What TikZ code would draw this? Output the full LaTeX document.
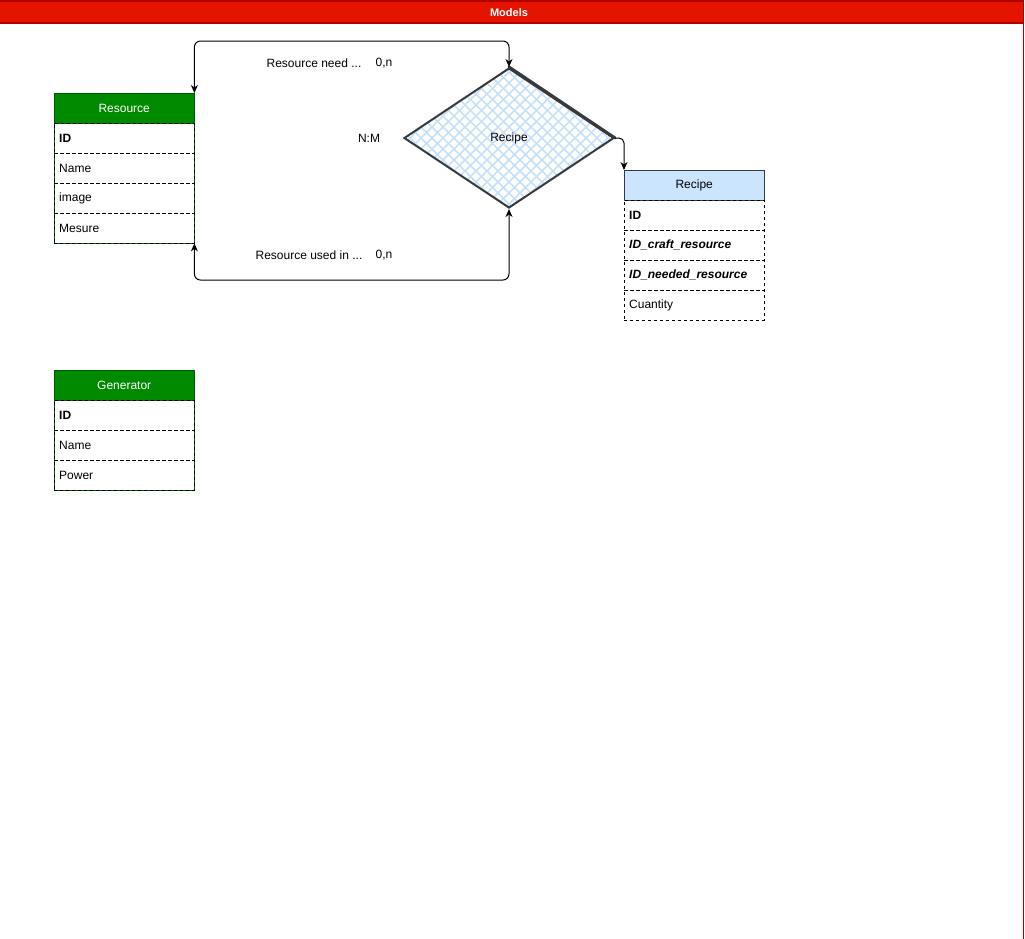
\documentclass[tikz,border=0pt]{standalone}
\usepackage{fontspec}
\setmainfont{Liberation Sans}
\usetikzlibrary{shapes.geometric,arrows.meta}
\definecolor{hdrred}{HTML}{E51400}
\definecolor{hdrline}{HTML}{B20000}
\definecolor{grn}{HTML}{008A00}
\definecolor{grnline}{HTML}{005700}
\definecolor{lblue}{HTML}{CCE5FF}
\definecolor{dgray}{HTML}{36393D}
\definecolor{hatchc}{HTML}{C6E0FB}
\begin{document}
\begin{tikzpicture}[x=1pt,y=-1pt,font=\fontsize{12}{14}\selectfont,
  hdrG/.style={draw=grnline,fill=grn,text=white,minimum width=140pt,minimum height=30pt,anchor=north west,inner sep=0pt},
  hdrB/.style={draw=dgray,fill=lblue,text=black,minimum width=140pt,minimum height=30pt,anchor=north west,inner sep=0pt},
  rowbox/.style={draw=black,dash pattern=on 3pt off 3pt,minimum height=30pt,text width=130pt,inner xsep=5pt,inner ysep=0pt,align=left,anchor=north west},
  keyrow/.style={rowbox,font=\fontsize{12}{14}\selectfont\bfseries},
  fkrow/.style={rowbox,font=\fontsize{12}{14}\selectfont\bfseries\itshape},
  arr2/.style={{Stealth[length=8pt,width=7pt,inset=2.5pt]}-{Stealth[length=8pt,width=7pt,inset=2.5pt]},rounded corners=6pt,line width=1pt},
  arr1/.style={-{Stealth[length=8pt,width=7pt,inset=2.5pt]},rounded corners=5pt,line width=1pt},
  lbl/.style={inner sep=0pt}
]
\useasboundingbox (0,0) rectangle (1025,938);
% swimlane frame
\fill[hdrred] (-2,0) rectangle (1023.5,23);
\draw[hdrline,line width=1.5pt] (-2,0.75) -- (1023.5,0.75) -- (1023.5,940);
\draw[hdrline,line width=1.5pt] (-2,23) -- (1023.5,23);
\node[text=white,font=\fontsize{11}{13}\selectfont\bfseries] (title) at (509,12.5) {Models};

% Resource table
\draw[grnline] (54,93) rectangle (194,243);
\node[hdrG] (resH) at (54,93) {Resource};
\node[keyrow] (resID) at (54,123) {ID};
\node[rowbox] (resName) at (54,153) {Name};
\node[rowbox] (resImg) at (54,183) {image};
\node[rowbox] (resMes) at (54,213) {Mesure};

% Generator table
\draw[grnline] (54,370) rectangle (194,490);
\node[hdrG] (genH) at (54,370) {Generator};
\node[keyrow] (genID) at (54,400) {ID};
\node[rowbox] (genName) at (54,430) {Name};
\node[rowbox] (genPow) at (54,460) {Power};

% Recipe table
\node[hdrB] (recH) at (624,170) {Recipe};
\node[keyrow] (recID) at (624,200) {ID};
\node[fkrow] (recCraft) at (624,230) {ID\_craft\_resource};
\node[fkrow] (recNeed) at (624,260) {ID\_needed\_resource};
\node[rowbox] (recQ) at (624,290) {Cuantity};

% Relationship diamond
\node[diamond,draw=dgray,line width=2pt,minimum width=210pt,minimum height=140pt,inner sep=0pt,aspect=1.5,
  path picture={
    \foreach \s in {-198,-187,...,198}{
      \draw[hatchc,line width=1.6pt] ([xshift=\s pt]path picture bounding box.center) ++(-150,-150) -- ++(300,300);
      \draw[hatchc,line width=1.6pt] ([xshift=\s pt]path picture bounding box.center) ++(-150,150) -- ++(300,-300);
    }
  }] (dia) at (509,138) {Recipe};
\draw[dgray,line width=3pt,line cap=round] (dia.north) -- (dia.east);

% connectors
\coordinate (topY) at (352,41);
\coordinate (botY) at (352,280);
\draw[arr2] (resH.north east) |- (topY) -| (dia.north);
\draw[arr2] (resMes.south east) |- (botY) -| (dia.south);
\draw[arr1] (dia.east) -| (recH.north west);

% labels
\node[lbl] (lblNeed) at (314,63.5) {Resource need ...};
\node[lbl] (lblNeedC) at (384,63.5) {0,n};
\node[lbl] (lblUsed) at (309,255.5) {Resource used in ...};
\node[lbl] (lblUsedC) at (384,255.5) {0,n};
\node[lbl] (lblNM) at (369,138.5) {N:M};
\end{tikzpicture}
\end{document}
